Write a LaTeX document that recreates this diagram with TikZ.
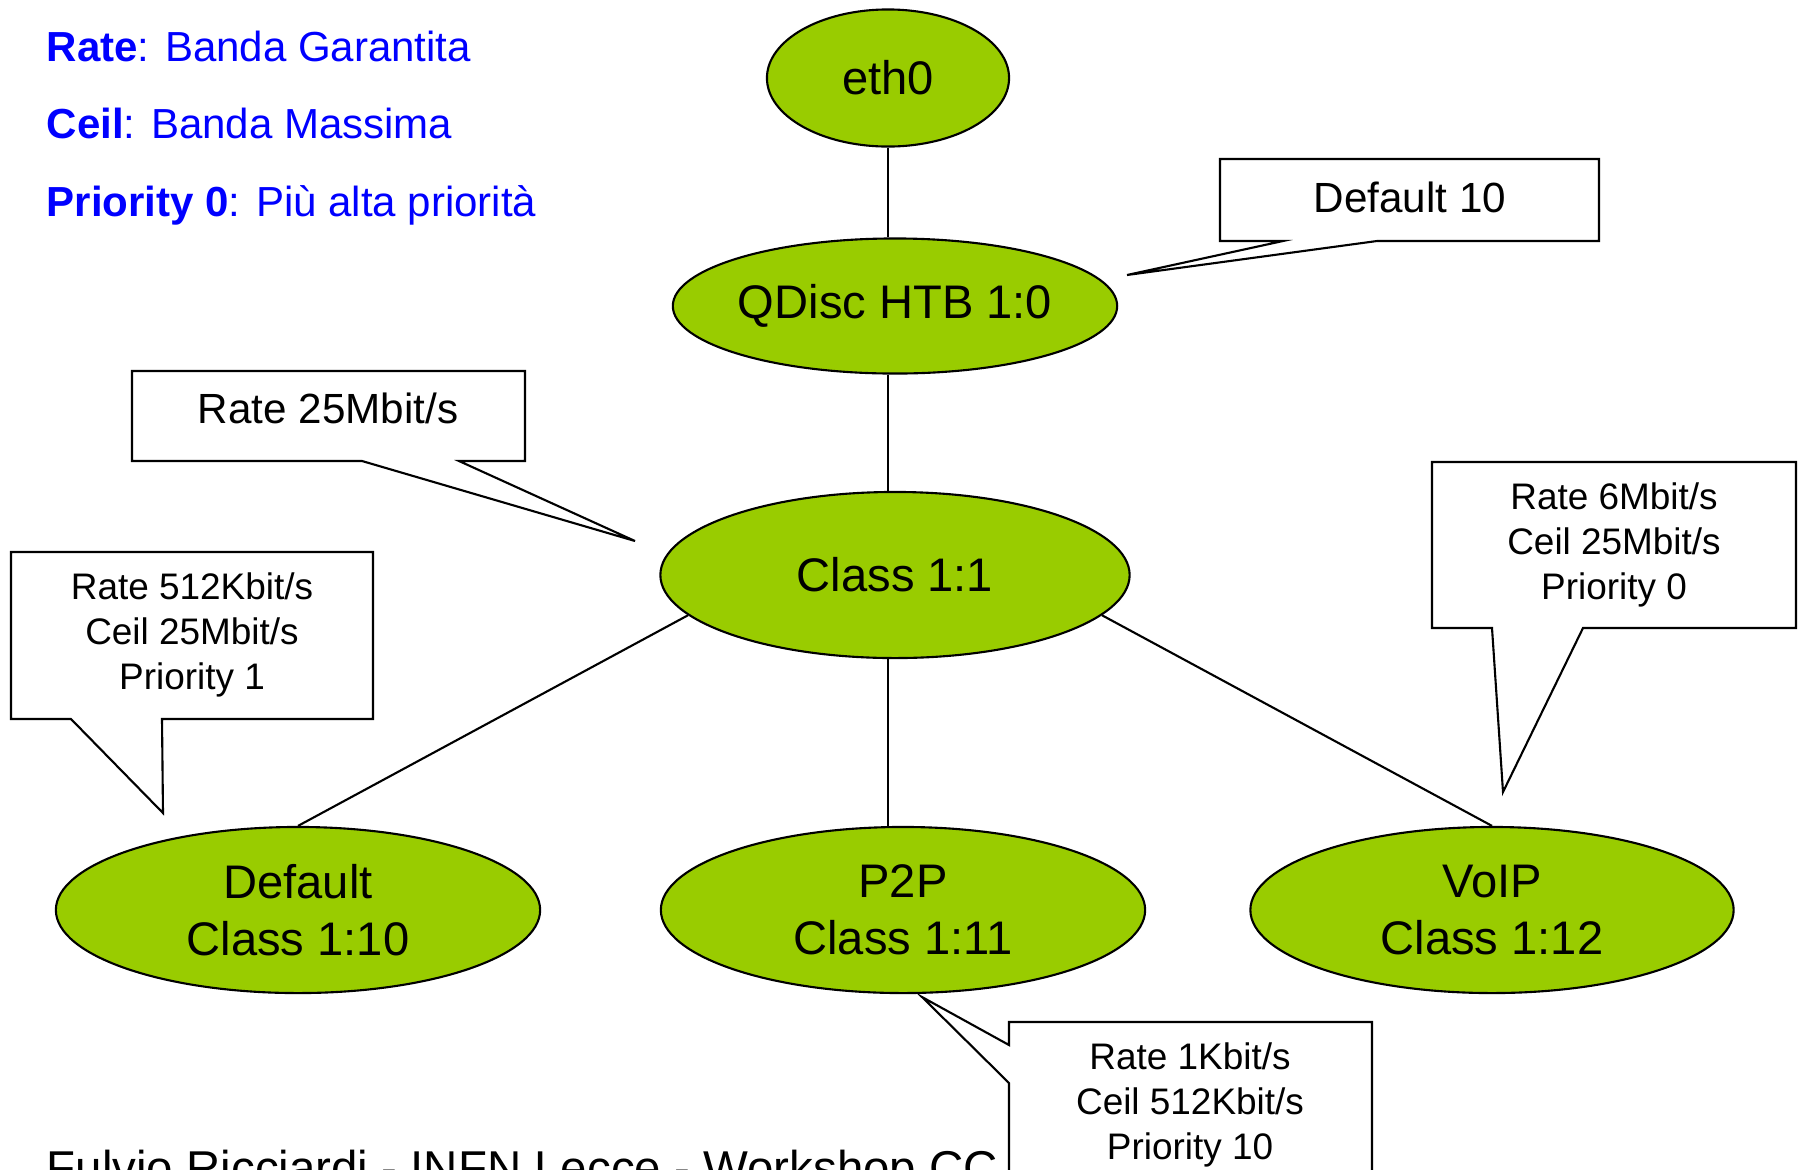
\documentclass[tikz,border=0pt]{standalone}
\usepackage{fontspec}
\setmainfont{Liberation Sans}
\usepackage{xcolor}
\usetikzlibrary{shapes.geometric, calc}
\definecolor{qgreen}{HTML}{99CC00}
\tikzset{
    qnode/.style={ellipse, draw, fill=qgreen, line width=0.6pt, inner sep=0pt, align=center, font=\fontsize{13.4}{16.3}\selectfont},
    link/.style={line width=0.6pt},
    note/.style={draw, fill=white, line width=0.6pt},
    notetext/.style={align=center, inner sep=0pt, font=\fontsize{10.5}{12.75}\selectfont},
    legend/.style={anchor=base west, inner sep=0pt, text=blue, font=\fontsize{11.95}{15}\selectfont}
}

\begin{document}
\begin{tikzpicture}[x=0.01cm, y=-0.01cm]
    \useasboundingbox (0,0) rectangle (1800,1169);
    % === LEGEND ===
    \node[legend] (lrate) at (46,61) {\textbf{Rate}: Banda Garantita};
    \node[legend] (lceil) at (46,138) {\textbf{Ceil}: Banda Massima};
    \node[legend] (lprio) at (46,216) {\textbf{Priority 0}: Più alta priorità};
    % footer, cut by the page edge
    \node[anchor=base west, inner sep=0pt, font=\fontsize{13.5}{16}\selectfont] (footer) at (46,1184) {Fulvio Ricciardi - INFN Lecce - Workshop CC};
    %
    % === HTB TREE ===
    \node[qnode, minimum width=2.42cm, minimum height=1.37cm] (eth0) at (888,78) {eth0};
    \node[qnode, minimum width=4.39cm, minimum height=1.35cm] (qdisc) at (895,306) {QDisc HTB 1:0};
    \node[qnode, minimum width=4.69cm, minimum height=1.66cm] (class) at (895,575) {Class 1:1};
    \node[qnode, minimum width=4.84cm, minimum height=1.66cm] (default) at (298,910) {Default\\Class 1:10};
    \node[qnode, minimum width=4.84cm, minimum height=1.66cm] (p2p) at (903,910) {P2P\\Class 1:11};
    \node[qnode, minimum width=4.83cm, minimum height=1.66cm] (voip) at (1492,910) {VoIP\\Class 1:12};
    % links
    \draw[link] (eth0.south) -- (eth0.south |- qdisc.north);
    \draw[link] (qdisc.south -| eth0.south) -- (class.north -| eth0.south);
    \draw[link] (class.south -| eth0.south) -- (p2p.north -| eth0.south);
    \draw[link] (class.191) -- (default.north);
    \draw[link] (class.349) -- (voip.north);
    %
    % === CALLOUTS ===
    % default class of the qdisc
    \draw[note] (1220,159) -- (1599,159) -- (1599,241) -- (1377,241) -- (1127,275) -- (1283,241) -- (1220,241) -- cycle;
    \node[notetext, font=\fontsize{12}{14}\selectfont] (ndefault) at (1410,197) {Default 10};
    % root class
    \draw[note] (132,371) -- (525,371) -- (525,461) -- (459,461) -- (635,541) -- (362,461) -- (132,461) -- cycle;
    \node[notetext, font=\fontsize{12}{14}\selectfont] (nclass) at (328,408) {Rate 25Mbit/s};
    % default leaf
    \draw[note] (11,552) -- (373,552) -- (373,719) -- (162,719) -- (163,813) -- (71,719) -- (11,719) -- cycle;
    \node[notetext] (ndleaf) at (192,635) {Rate 512Kbit/s\\Ceil 25Mbit/s\\Priority 1};
    % voip leaf
    \draw[note] (1432,462) -- (1796,462) -- (1796,628) -- (1583,628) -- (1503,792) -- (1492,628) -- (1432,628) -- cycle;
    \node[notetext] (nvoip) at (1614,545) {Rate 6Mbit/s\\Ceil 25Mbit/s\\Priority 0};
    % p2p leaf
    \draw[note] (1009,1220) -- (1009,1083) -- (922,997) -- (1009,1045) -- (1009,1022) -- (1372,1022) -- (1372,1220) -- cycle;
    \node[notetext] (np2p) at (1190,1105) {Rate 1Kbit/s\\Ceil 512Kbit/s\\Priority 10};
\end{tikzpicture}
\end{document}
